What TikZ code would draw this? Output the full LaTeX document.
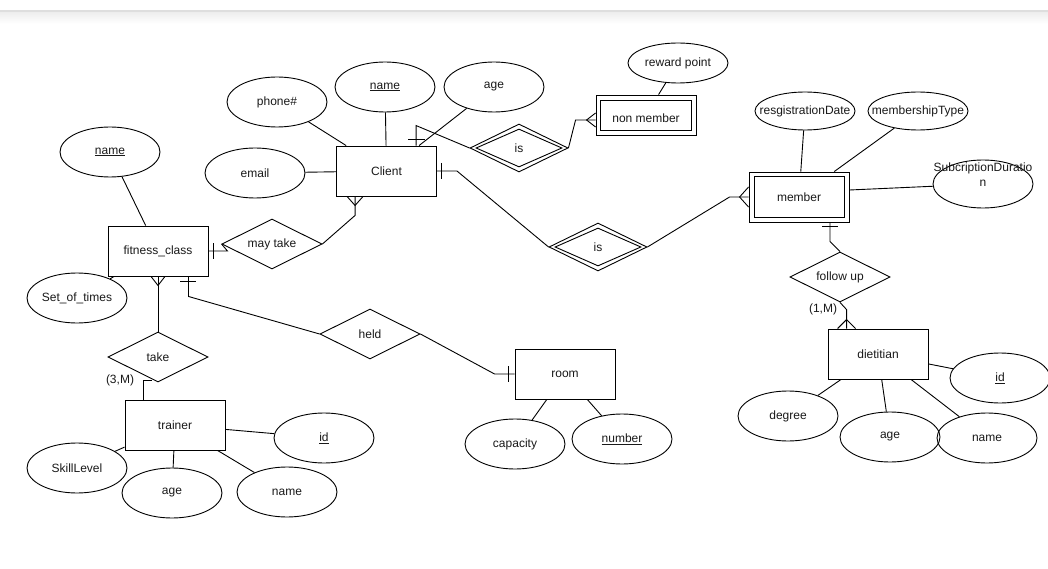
\documentclass[tikz,border=0pt]{standalone}
\usepackage{fontspec}
\setmainfont{Liberation Sans}
\usetikzlibrary{shapes.geometric,calc}
\begin{document}
\begin{tikzpicture}[x=1pt,y=-1pt,
  every node/.style={font=\fontsize{12pt}{14pt}\selectfont, text=black!90},
  lw/.style={line width=0.9pt, draw=black},
  ent/.style={lw, rectangle, minimum width=100pt, minimum height=50pt, inner sep=0pt},
  attr/.style={lw, ellipse, minimum width=100pt, minimum height=50pt, inner sep=0pt},
  rel/.style={lw, diamond, aspect=2, minimum width=100pt, minimum height=50pt, inner sep=0pt},
  lnk/.style={line width=0.9pt, draw=black},
  lbl/.style={inner sep=0pt}
]
\useasboundingbox (0,0) rectangle (1048,569);
\fill[white] (0,0) rectangle (1048,569);
% top shadow strip
\fill[black!13] (0,10.5) rectangle (1048,12);
\foreach \i in {0,...,11}{
  \pgfmathsetmacro\op{0.07*(1-\i/12)}
  \fill[black,opacity=\op] (0,12+\i) rectangle (1048,13+\i);
}

% entities
\node[ent] (client) at (386.5,171) {Client};
\node[ent] (fitness) at (158,251) {fitness\_class};
\node[ent] (trainer) at (175,425) {trainer};
\node[ent] (room) at (565,374) {room};
\node[ent] (dietitian) at (878,354) {dietitian};
\node[ent, minimum height=40pt, label={[lbl,yshift=-3pt]center:non member}] (nonmember) at (646,115) {};
\node[lw, rectangle, minimum width=91pt, minimum height=30pt, inner sep=0pt] (nonmemberin) at (646,115) {};
\node[ent] (member) at (799,197) {member};
\node[lw, rectangle, minimum width=90pt, minimum height=41pt, inner sep=0pt] (memberin) at (799,197) {};

% relationships
\node[rel, minimum width=98pt, minimum height=48pt] (isnm) at (519,148) {is};
\node[lw, diamond, minimum width=86pt, minimum height=38pt, inner sep=0pt] (isnmin) at (519,148) {};
\node[rel, minimum width=98pt, minimum height=48pt] (ismb) at (598,247) {is};
\node[lw, diamond, minimum width=86pt, minimum height=38pt, inner sep=0pt] (ismbin) at (598,247) {};
\node[rel] (maytake) at (272,244) {may take};
\node[rel] (take) at (158,357) {take};
\node[rel] (held) at (370,334) {held};
\node[rel] (followup) at (840,277) {follow up};

% attributes
\node[attr] (cphone) at (277,102) {phone\#};
\node[attr] (cname) at (385,87) {\underline{name}};
\node[attr] (cage) at (494,87) {age};
\node[attr] (cemail) at (255,173) {email};
\node[attr, minimum height=40pt, label={[lbl]center:reward point}] (reward) at (678,63) {};
\node[attr, minimum height=38pt, label={[lbl]center:resgistrationDate}] (regdate) at (805,111) {};
\node[attr, minimum height=38pt, label={[lbl]center:membershipType}] (mtype) at (918,111) {};
\node[attr, minimum height=48pt] (subdur) at (983,184) {};
\node[lbl, align=center] (subdurtxt) at (983,175) {SubcriptionDuratio\\[1pt]n};
\node[attr] (fname) at (110,152) {\underline{name}};
\node[attr] (settimes) at (77,298) {Set\_of\_times};
\node[attr] (tid) at (324,438) {\underline{id}};
\node[attr] (skill) at (77,468) {SkillLevel};
\node[attr] (tage) at (172,493) {age};
\node[attr] (tname) at (287,492) {name};
\node[attr] (capacity) at (515,444) {capacity};
\node[attr] (number) at (622,439) {\underline{number}};
\node[attr] (did) at (1000,378) {\underline{id}};
\node[attr] (degree) at (788,416) {degree};
\node[attr] (dage) at (890,437) {age};
\node[attr] (dname) at (987,438) {name};

% attribute links
\draw[lnk] (cphone) -- (client);
\draw[lnk] (cname) -- (client);
\draw[lnk] (cage) -- (client);
\draw[lnk] (cemail) -- (client);
\draw[lnk] (reward) -- (nonmember);
\draw[lnk] (regdate) -- (member);
\draw[lnk] (mtype) -- (member);
\draw[lnk] (subdur) -- ($(member.east)+(0,-7)$);
\draw[lnk] (fname) -- (fitness);
\draw[lnk] (settimes) -- (fitness);
\draw[lnk] (tid) -- (trainer);
\draw[lnk] (skill) -- (trainer);
\draw[lnk] (tage) -- (trainer);
\draw[lnk] (tname) -- (trainer);
\draw[lnk] (capacity) -- (room);
\draw[lnk] (number) -- (room);
\draw[lnk] (did) -- (dietitian);
\draw[lnk] (degree) -- (dietitian);
\draw[lnk] (dage) -- (dietitian);
\draw[lnk] (dname) -- (dietitian);

% client -- is -- non member
\draw[lnk] ($(client.north west)+(80,0)$) -- ++(0,-20) -- (isnm.west);
\draw[lnk] ($(client.north west)+(72,-6)$) -- ++(17,0);
\draw[lnk] (isnm.east) -- ($(nonmember.west)+(-20,5)$) -- ($(nonmember.west)+(0,5)$);
\draw[lnk] ($(nonmember.west)+(0,-2)$) -- ($(nonmember.west)+(-9,5)$) -- ($(nonmember.west)+(0,12)$);

% client -- is -- member
\draw[lnk] (client.east) -- ++(20,0) -- (ismb.west);
\draw[lnk] ($(client.east)+(4,-8)$) -- ++(0,16);
\draw[lnk] (ismb.east) -- ($(member.west)+(-19,0)$) -- (member.west);
\draw[lnk] ($(member.west)+(0,-10)$) -- ($(member.west)+(-9,0)$) -- ($(member.west)+(0,10)$);

% member -- follow up -- dietitian
\draw[lnk] ($(member.south)+(31,0)$) -- ++(0,19) -- (followup.north);
\draw[lnk] ($(member.south)+(23,4)$) -- ++(16,0);
\draw[lnk] (followup.south) -- ($(dietitian.north west)+(19,-19)$) -- ($(dietitian.north west)+(19,0)$);
\draw[lnk] ($(dietitian.north west)+(10,0)$) -- ($(dietitian.north west)+(19,-9)$) -- ($(dietitian.north west)+(28,0)$);
\node[lbl] (lab1M) at (823,309) {(1,M)};

% fitness -- may take -- client
\draw[lnk] (fitness.east) -- ++(19,0) -- (maytake.west);
\draw[lnk] ($(fitness.east)+(5,-8)$) -- ++(0,16);
\draw[lnk] (maytake.east) -- ($(client.south west)+(19,19)$) -- ($(client.south west)+(19,0)$);
\draw[lnk] ($(client.south west)+(11,0)$) -- ($(client.south west)+(19,9)$) -- ($(client.south west)+(27,0)$);

% fitness -- take -- trainer
\draw[lnk] (fitness.south) -- (take.north);
\draw[lnk] ($(fitness.south)+(-7,0)$) -- ($(fitness.south)+(0,9)$) -- ($(fitness.south)+(7,0)$);
\draw[lnk] ($(trainer.north west)+(19,0)$) |- ($(take.south)+(-6,-2)$);
\node[lbl] (lab3M) at (120,380) {(3,M)};

% fitness -- held -- room
\draw[lnk] ($(fitness.south east)+(-20,0)$) -- ++(0,20) -- (held.west);
\draw[lnk] ($(fitness.south east)+(-28,5)$) -- ++(16,0);
\draw[lnk] (held.east) -- ($(room.west)+(-20,0)$) -- (room.west);
\draw[lnk] ($(room.west)+(-6,-8)$) -- ++(0,16);
\end{tikzpicture}
\end{document}
